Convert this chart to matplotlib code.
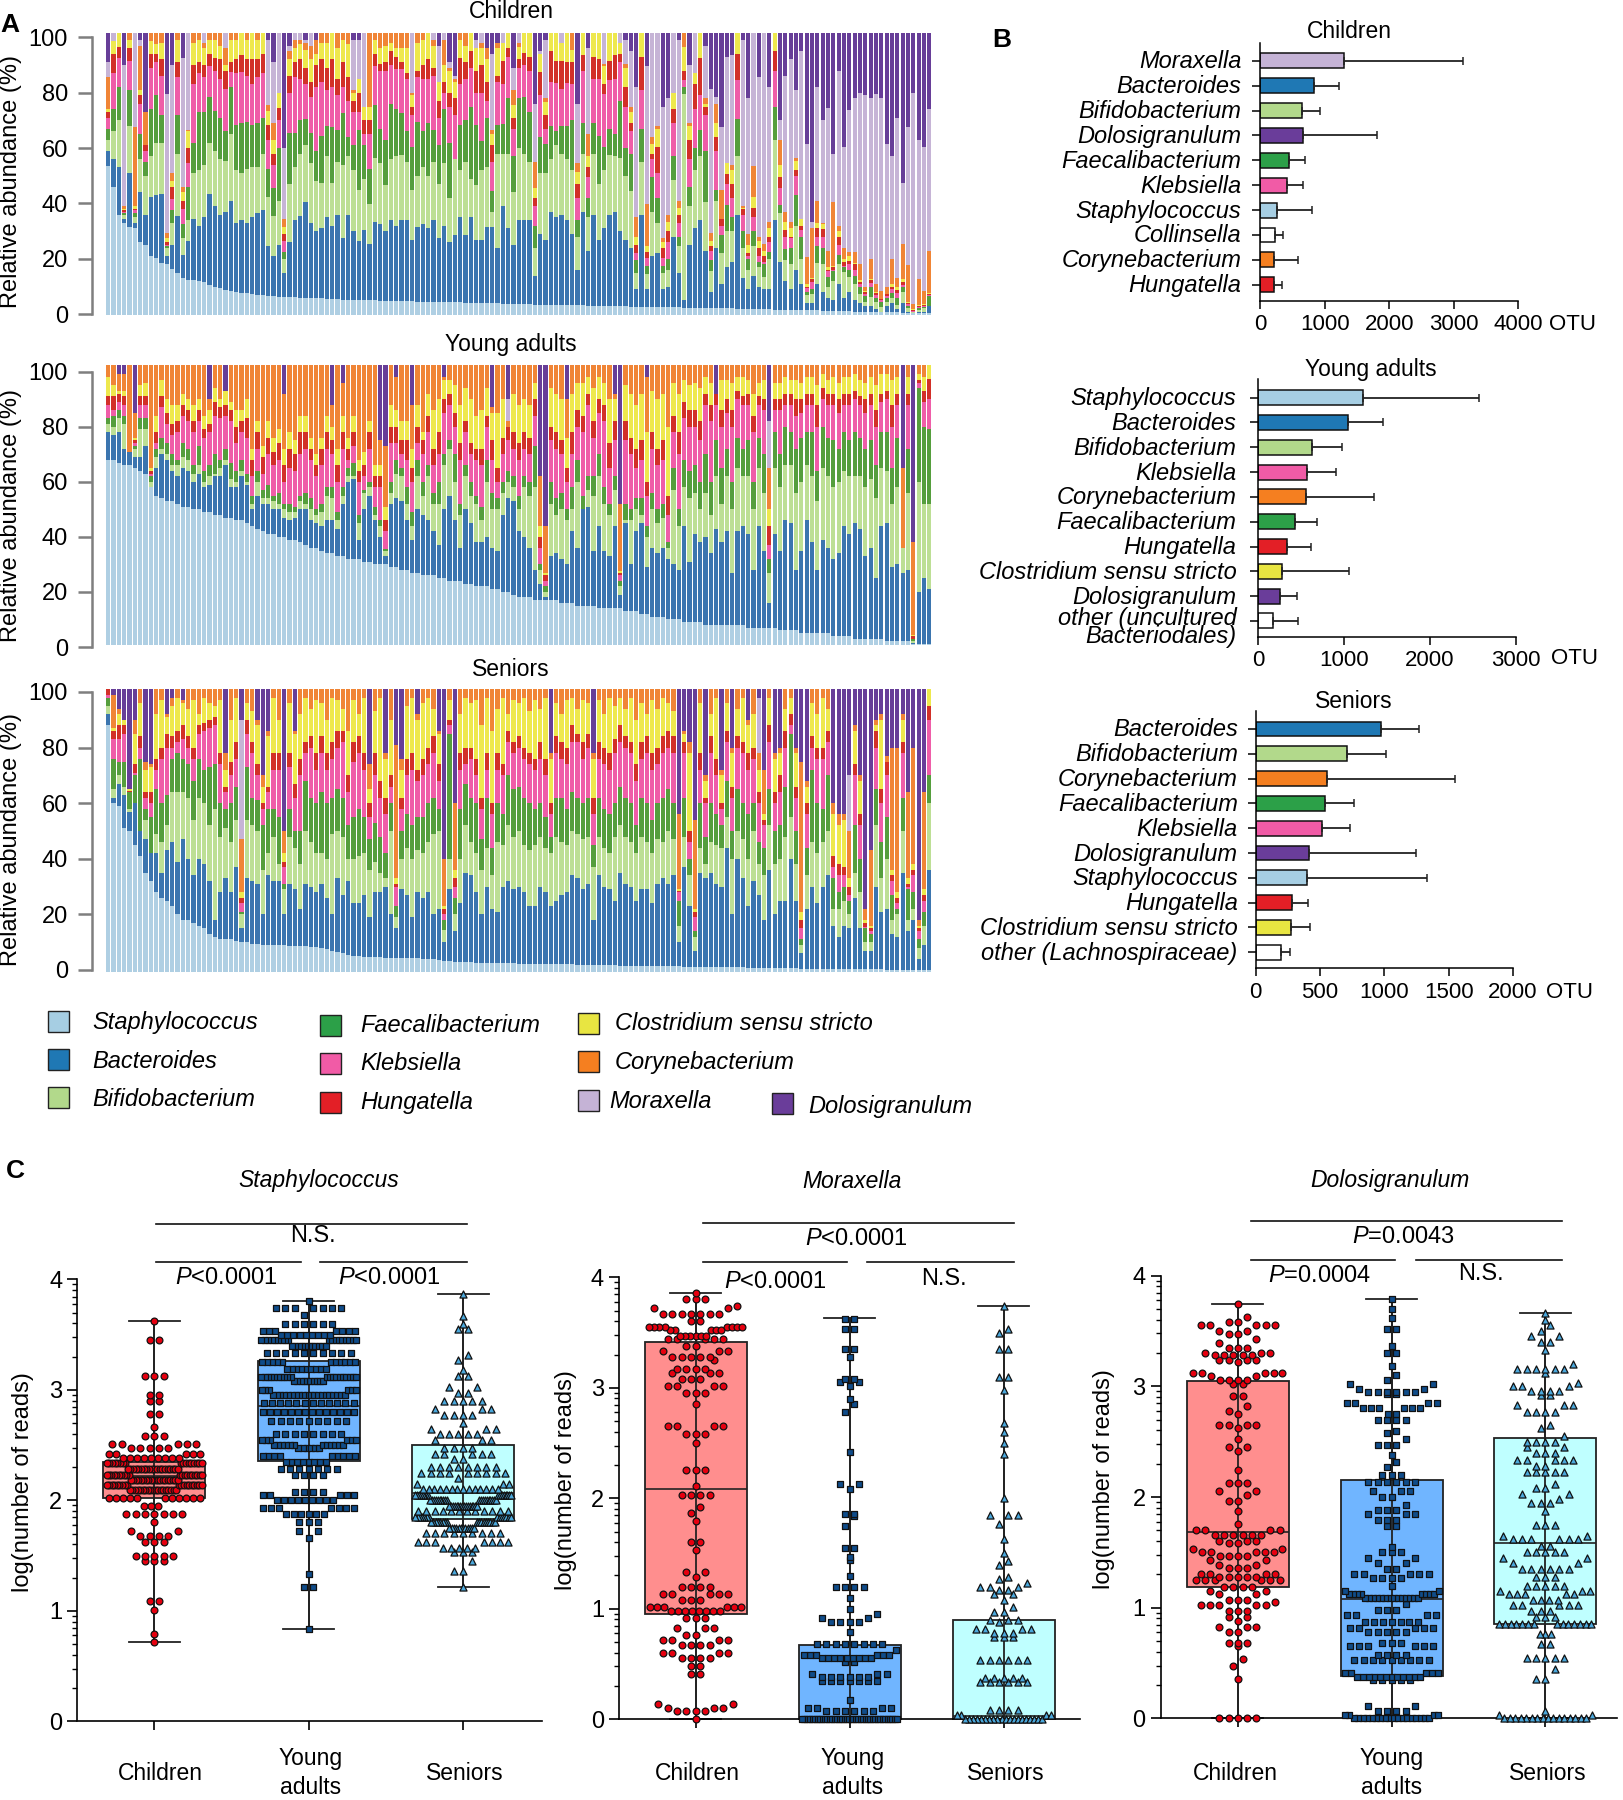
import numpy as np
import matplotlib
matplotlib.use('Agg')
import matplotlib.pyplot as plt
from matplotlib.lines import Line2D
from matplotlib.patches import Rectangle
from matplotlib.transforms import ScaledTranslation

W, H = 1624, 1800
plt.rcParams['font.family'] = ['Liberation Sans', 'DejaVu Sans']
plt.rcParams['mathtext.fontset'] = 'custom'
plt.rcParams['mathtext.it'] = 'Liberation Sans:italic'
plt.rcParams['mathtext.rm'] = 'Liberation Sans'

# genus order in the stacks (bottom to top), values are upper edges in %
genera = ['Staphylococcus', 'Bacteroides', 'Bifidobacterium', 'Faecalibacterium', 'Klebsiella',
          'Hungatella', 'Clostridium sensu stricto', 'Corynebacterium', 'Moraxella', 'Dolosigranulum']
stack_colors = ['#AFCFE3', '#3B75AF', '#BDDF95', '#559E3D', '#EF5DA8', '#D23028', '#EEE84D', '#F08536', '#C6B4D6', '#673E98']
solid_colors = ['#A6CEE3', '#1F78B4', '#B2D98B', '#2CA048', '#F15BA6', '#E31F26', '#E8E541', '#F57F20', '#C5B3D6', '#6A3D9A']

# Children
ch_staph = [53.5,46,36,33,31.5,31,26,25,21,20.5,18.5,18,16.5,15,13,12.5,12.5,12,11.5,10.5,
    9.8,9.5,8.8,8.5,8,7.7,7.7,7.5,6.8,6.8,6.7,6.5,6.2,6.2,6.1,6.1,6,6,5.9,5.9,
    5.8,5.7,5.6,5.6,5.3,5.3,5.2,5.1,5.1,5,5,4.9,4.9,4.8,4.8,4.7,4.7,4.7,4.6,4.6,
    4.5,4.5,4.5,4.4,4.4,4.3,4.3,4.2,4.2,4.1,4,4,3.9,3.9,3.8,3.8,3.7,3.7,3.6,3.6,
    3.5,3.5,3.4,3.4,3.4,3.3,3.3,3.2,3.2,3.2,3.1,3.1,3,3,3,2.9,2.9,2.9,2.8,2.8,
    2.8,2.7,2.7,2.7,2.6,2.6,2.5,2.5,2.4,2.4,2.4,2.3,2.3,2.2,2.2,2.2,2.1,2.1,2,2,
    1.9,1.9,1.8,1.8,1.8,1.7,1.7,1.6,1.6,1.5,1.5,1.5,1.4,1.4,1.3,1.3,1.2,1.2,1.1,1.1,
    1,1,.9,.9,.9,.8,.8,.7,.7,.6,.6,.5,.5,.4,.4]
ch_bact = [59,56,53,34.5,51,33,44,36,42.5,43,43.5,21,25,35.5,21.5,26.5,34.5,32,35,43.5,
    39,36,37,41,33,34,33,35,36.5,37.5,24.5,21,25,15,26,34,35.5,40.5,33,30,
    31,35,32,36,27.5,36,30,26.5,30.5,25.5,33.5,32.5,30,34,32,34,34,27,31.5,32.5,
    31,34,27.5,32,26,28.5,35,28.5,35,27,27,31.5,31.5,24,
    39,31,25,34,34,34,14,29,27,37,35,36,34,29,16,37,23,36,27,31,
    36,37,30,27,24,9,36,9,21,22,9,10,28,15,5,25,31,34,23,8,
    24,11,17,19,36,13,9,14,10,9,9,34,19,12,9,16,11,4,4,11,
    8,6,5,11,6,8,5,4,3,3,2,1,3,4,2,4,1,0.5,1,1,3]
ch_bifi = [63,66,70,36,68,35,56,50,57,62,62,24,33,58,27.5,34,51,52,54,62,
    59,56,55.5,65,52,51,52.5,53,53,58,42.5,35.5,41,20,47,53,58,61,54.5,48,
    47.5,57,47.5,55,54,57,52,45,49,40,56.5,54.5,46.5,56,57,57.5,55,45,50,53,
    50,55,47,54.5,42,56,52,55,49,46.5,52,53,37,58,
    58,58,44,60,58,55,24,51,51,56,61,58,56,52,28,58,35,58,47,52,
    57.5,57,56.5,50,44.5,15,55,14.5,37,33,15,16,48.5,24.7,79.5,39,52,57,40.5,15.5,
    41,22,30,30,57,24,16,24.5,17,13.5,20,63,36.5,19.6,18,32,20,7,7.5,18.5,
    18,10,12,18,15.4,13.6,11,7.5,4.5,6.4,4.3,2.5,4.6,5.8,3.4,8.2,2.2,0.7,1.6,2.2,3]
ch_faec = [67,74,82,36.5,81,36.5,65,55,74,79,72,24.5,37.5,72,32.5,46,62,73,73,78.5,
    73.5,71,66,82,68.5,69,69.5,68.5,69,71,52.5,45.5,60,22.5,65.5,65.5,70,70.5,65.5,59,
    64.5,68,67.5,66.5,72.5,64,61,66.5,61,52.5,75.5,67,63,76,74,72.5,66,60.5,69.5,66,
    69,66.5,61,74,62,56,68.5,70,75,68.5,62.5,71,44.5,68.5,
    68.7,78,57,78,78.5,73,32,64,61.5,68,66,68,68,70,34,69,42,69,64.5,60.5,
    67,65,77,60,58,19.5,67,17.5,49.7,42,17.5,20,57,28,82,46,60,66.5,59,19.5,
    45,28.5,39.5,35,70.5,30,20,30,19,18,22.6,75,39.5,23.5,24,43,28,8,9,24.7,
    24,13.6,15.5,21.5,17,16,14,9.7,6.6,9.7,5.8,4.6,5.8,7.6,5.8,9.7,3,1,2.2,2.8,6.6]
ch_kleb = [71,87,92.5,37,91.5,37.5,76,59,89,91,86,25,41.5,85.5,38,54.5,83,87,85.5,89.5,
    88,85,81.5,87.5,87,87.5,86,83,85.5,87,63,54,70,26.5,80,85.5,85,83,78.5,82,
    84,81,82,79,82,77,73,73,65,65,89.5,88,88,90,88.5,88.5,85,72,85.5,85,
    85,86,71,80,75,72,83,85,89,80,80,77,55,84,
    83,93,67,89,90,88,39,79,67,84,83.6,81.5,83.5,83,42,88,49.5,85,85,79.5,
    84.5,85,91,75,66,22,81,20.5,56,51,20.5,26,69,33,84.5,56,74,79,72,23,
    59,32,47,42,84.5,36,21,35,21,19,26,88,45.5,28,27.5,50,30.5,9.5,11.5,28,
    28,15.7,16,25,17.5,18,16,11,7.3,11.4,7,5.2,6.6,9,7.6,10.6,3.7,1.2,2.8,3,7]
ch_hung = [73,94,96.5,37.5,96,38,79,61,94,94,92,26,46,91,41,60,90,91,90,94,
    92.5,92,88,91,92,93.5,92,92,92,94,68.5,58,74.5,29,86,91,92,89,84,90,
    92,89,92,85,91,85.5,77,80,70,70,94,90.5,91,95,93,91,87,75,88,90,
    92,89,77,84,80,78,92.5,91,95,88,90,84,61,86,
    91.5,96,71,92,94.5,93,42,87.6,72,95,91.5,91.5,91,91,47,93.5,53,93,92,83,
    91.5,93.5,94,82,69,25,93,22.5,58,60.5,24,30,74,36,88,63,83,92.5,75,24.7,
    64,34.5,50.7,47,94,38,22,38.5,24,21,28,95,49.5,30.5,28,52,32,10,12.7,31,
    30.7,16,17,28,19,19.4,18,11.8,8,12.4,7.6,5.5,7.3,10,8.8,11.8,4,1.6,3,3.4,7.2]
ch_clos = [74,98.5,100,38,99,39,81,61,98.5,97.5,98,27.5,48,99,44,66,98,99,96,99,
    99,97,90,99,99,100,99,100,99,101,73.5,63,80,31.5,92,96,97.5,95.5,92,94,
    98,98,100,96,99,97.5,80,85,75,75,99,96,97,98,96,96,96,79,98,99,
    100,97,84,90,88,84,99,97,100,96,96,92,65,96,
    98,101,75.5,96.5,100,100,45.5,94,76.5,101,100,98,100,95.5,51.5,100,57,100,100,89.5,
    100,100,98,89,73,28,100,24.5,61.5,67,26,33.5,80,38.5,96.5,68,87,100,76,26.5,
    69,34.5,54.5,52,100,38.5,25,42.5,26.5,23,31,100,54,33.5,31,55.5,34.5,11,13,33,
    32.6,17,17.5,30,20,21,18.4,12.4,8.5,12.6,8,5.6,7.4,11,10,12.6,4.6,1.8,3.4,3.7,7.6]
ch_cory = [85.5,98,100,39,100,67.5,97,73,100,100,100,29.5,51,100,46,66.5,100,100,98,100,
    100,100,96,100,100,101,100,101,101,101,75.5,69,80,34.5,95,99,99,98,97,99,
    100,100,101,100,100,100,81,84,75,100,100,101,100,100,100,100,100,80,100,100,
    101,99,82,99,89,85,100,100,101,96,98,96,66.5,98,
    98,101,81,98,100,100,55,94,78,101,100,98,100,100,54.5,100,65,100,100,90.5,
    100,100,98,90.5,75,35,100,40,64,68,27.5,36,80,41,100,69,87,100,78,29.5,
    76,44.7,54.5,54,100,39,29,53.5,28,25.5,33.5,100,63,37,33.5,56.5,34.5,20.7,31,41,
    33,23,40.7,32,24,22.6,22.6,18,10,20,11,8.4,9.7,20,13,25.3,17.8,3.6,12.6,8.4,23]
ch_mora = [91,101,101,90,101,100.5,99,73,100.5,100,100,79.5,90,101,92.5,100,101,101,101,101,
    101,99,101,101,100,101,101,100,99,101,99,91,101,60,97,100,100,99,100,99,
    100,101,100,99,100,100,99,99,101,100,101,101,100,100,101,99,100,101,100,100,
    101,100,97,100,91,86,100,99,100,99,101,96,94,98,
    100,101,89,100,100,100,76,95,99,101,100,100,100,100,76,100,96,100,100,100,
    100,100,100,99,95,82,100,89.5,100,100,75,78,100,99,100,90,100,100,97,81.5,
    78.5,67.5,93,93.5,100,99,78,100,85.7,100,82,100,70,86,92,81,95,61.5,33.5,82,
    70,74.4,58,88,60.5,73.8,78,80,79,78,79.5,78,61.5,57,70.8,47.3,67.7,80,63,60.3,74]

# Young adults
ya_staph = [68,68,67,66,66,65,64,63,58,55,54,53,53,52,51,51,50,50,49,49,
    48,48,47,47,46,46,45,44,43,42,41,41,40,40,39,39,38,37,36,36,
    35,34,34,33,33,32,32,32,31,31,30,30,30,29,29,28,28,27,27,26,
    26,26,25,25,24,24,24,23,23,22,22,22,21,21,20,20,19,18,18,18,
    17,17,17,17,17,16,16,16,15,15,15,15,14,14,14,14,14,13,13,13,
    12,12,11,11,11,10,10,10,9,9,9,9,8,8,8,8,8,8,8,8,
    7,7,7,7,7,7,6,6,6,6,5,5,5,5,5,5,4,4,4,4,
    3,3,3,3,3,3,2,2,2,2,2,1,1,1,1]
ya_bact = [78,77,78,72,71,69,69,73,58,65,70,68,64,62,65,64,60,63,58,59,
    62,62,66,58,58,62,59,50,55,52,52,50,50,47,46,47,50,50,46,45,
    44,46,46,43,52,60,61,39,50,55,46,40,33,52,54,53,46,39,50,48,
    46,42,37,50,55,46,36,50,45,38,38,40,36,35,48,54,53,42,40,36,
    28,23,18,33,34,32,30,42,36,50,51,35,44,35,33,44,19,45,30,42,
    45,29,36,34,36,32,30,28,44,31,41,38,40,34,43,38,42,27,42,44,
    41,28,44,35,16,41,35,46,45,28,35,46,38,28,39,36,32,34,44,41,
    45,43,33,36,25,44,45,29,30,27,28,1.5,20,25,21]
ya_bifi = [81,80,83,81,66,72,79,79,60,69,72,70,66,66,69,68,63,66,60,62,
    63,65,68,61,60,64,60,52,60,54,54,53,52,50,49,49,53,52,50,48,
    49,55,54,46,55,62,62,45,56,58,48,44,35,56,63,62,52,44,62,55,
    62,52,52,66,72,60,48,62,55,52,46,60,50,50,56,60,58,50,58,55,
    58,28,20,52,48,50,46,50,60,48,57,55,62,52,48,57,22,46,46,50,
    48,40,50,45,47,36,57,44,58,54,56,50,56,48,62,52,62,50,65,62,
    62,50,65,56,27,65,58,66,66,56,60,66,62,53,65,62,58,60,64,62,
    62,62,58,61,54,65,64,52,58,36,56,2,60,52,52]
ya_faec = [83,84,86,84,68,73,83,83,62,72,76,74,70,68,74,72,66,73,64,66,
    70,68,72,67,64,68,63,55,64,57,59,55,56,52,52,51,55,56,54,50,
    52,58,58,49,58,65,67,48,57,60,51,46,35.5,60,68,65,58,49,68,60,
    66,56,60,70,75,70,52,66,60,55,51,68,56,54,60,64,62,55,62,60,
    73,30,22,60,54,56,50,58,68,55,62,62,70,58,52,62,24,52,50,54,
    54,44,56,50,52,38,65,50,68,64,66,60,70,60,75,65,72,60,76,72,
    75,60,76,70,32,78,70,80,78,72,76,78,78,64,80,76,75,72,78,75,
    78,76,72,75,66,78,78,65,76,36,72,3,94,80,79]
ya_kleb = [88,86,89,88,69,74,88,88,63,74,87,81,77,78,84,82,78,82,76,78,
    84,83,84,82,74,78,76,62,72,63,70,66,68,60,65,64,70,72,68,62,
    66,72,70,60,72,68,73,60,62,72,58,58,42,74,74,70,68,60,74,70,
    78,66,70,85,88,80,68,78,70,68,66,80,68,60,70,75,72,68,72,70,
    84,36,24,75,72,70,60,70,80,78,88,76,85,82,65,75,26,75,70,65,
    68,55,72,66,68,48,78,70,83,80,80,75,88,82,88,80,85,80,90,88,
    88,78,88,86,37,86,86,88,88,84,85,88,88,80,90,88,88,85,88,88,
    90,88,85,88,80,89,90,80,88,34,88,3,96,89,90]
ya_hung = [91,91,92,91,70,75,91,91,64,78,91,85,81,82,88,86,82,86,79,81,
    89,87,88,86,80,82,83,68,78,69,76,71,74,66,72,70,78,78,72,66,
    72,78,75,66,78,72,78,64,66,78,62,62,46,80,80,75,75,65,80,75,
    84,72,78,90,92,85,74,82,74,72,72,84,75,65,76,80,78,74,78,76,
    90,40,26,80,78,75,65,78,86,84,92,82,90,88,74,82,27,82,76,72,
    75,60,78,72,75,55,84,78,89,86,86,82,92,88,92,86,90,86,93,91,
    92,84,91,90,44,90,90,92,92,90,90,92,92,88,94,92,92,90,92,92,
    93,91,90,92,86,92,93,88,92,35,92,4,97,93,97.5]
ya_clos = [98,95,93,93,71,76,95,96,65,84,97,90,88,88,92,90,88,90,84,86,
    94,90,93,89,86,86,90,72,82,73,82,76,79,72,78,75,84,84,76,70,
    76,84,80,72,84,76,84,68,71,82,66,66,51,88,86,82,82,72,88,78,
    92,86,90,97,97,95,88,94,90,84,86,94,85,85,90,80,92,88,90,88,
    96,44,27,94,92,90,76,92,96,96,98,94,98,96,90,90,27.5,95,92,88,
    92,78,93,90,92,80,96,92,97,95,96,94,98,96,90,97,97,96,98,98,
    97,92,96,97,50,96,96,98,97,97,96,98,98,95,99,97,98,96,98,98,
    99,97,96,98,95,99,99,97,98,35.5,98,4.5,99,98,100]
ya_cory = [100,100,99,99,100,85,100,100,100,100,100,100,100,100,100,100,100,100,100,90,
    100,100,92,100,100,100,100,100,100,100,100,100,100,92,100,100,100,100,100,100,
    100,100,88,100,96,100,100,100,100,100,100,75,73,100,98,100,100,88,100,100,
    100,100,100,98,100,100,100,100,100,100,100,100,87,100,100,82,100,100,100,100,
    100,62,44,100,100,100,90,100,100,100,100,100,100,100,100,92,52,100,100,100,
    100,98,100,100,100,100,100,100,100,100,100,100,100,100,92,100,100,100,100,100,
    100,100,100,100,65,100,100,100,100,100,100,100,100,100,100,100,100,100,100,100,
    100,100,100,100,100,100,100,100,100,65,100,38,100,100,100]
ya_mora = {75: 8, 124: 17}

# Seniors
se_staph = [88,60,59,51,50,45,41,35,32,28,26,25,23,20,18,18,17,16,15,13,
    12,11,11,11,10.5,10,10,9.5,9.5,9,9,9,9,9,8.8,8.7,8.5,8.5,8.3,8.1,
    8,7.5,7,6.5,6,5.5,5.2,5,4.8,4.6,4.5,4.5,4.4,4.4,4.3,4.3,4.3,4.2,4.2,4.1,
    4,3.8,3.6,3.4,3.2,3,2.8,2.7,2.7,2.6,2.6,2.5,2.5,2.5,2.4,2.4,2.4,2.3,2.3,2.3,
    2.2,2.2,2.2,2.1,2.1,2,2,2,1.9,1.9,1.8,1.8,1.8,1.7,1.7,1.7,1.6,1.6,1.6,1.5,
    1.5,1.5,1.4,1.4,1.4,1.3,1.3,1.3,1.2,1.2,1.2,1.1,1.1,1.1,1,1,1,.9,.9,.9,
    .8,.8,.8,.7,.7,.7,.6,.6,.6,.6,.5,.5,.5,.5,.4,.4,.4,.4,.3,.3,
    .3,.3,.2,.2,.2,.2,.1,.1,.1,.1,0,0,0,0,0]
se_bact = [92,62,67,63,57,60,50,47,42,42,35,43,46,39,47,40,34,40,38,32,
    18,28,33,28,37,15,33,32,31,20,34,32,32,20,31,29,22,31,30,28,
    31,26,20,33,27,32,24,24,27,19,28,28,30,20,15,29,27,19,28,26,
    28,20,22,10,29,14,24,35,34,28,20,30,22,21,30,32,29,30,28,23,
    23,30,28,23,25,27,28,34,33,29,31,18,34,30,29,25,35,31,30,25,
    29,29,24,31,33,31,34,10,37,23,7,35,33,35,31,30,44,20,40,33,
    23,32,27,18,36,20,25,25,40,25,6,22,30,24,30,34,16,12,16,15,
    26,15,7,7,30,21,22,13,12,35,14,18,4,9,36]
se_bifi = [95,65,70,66,58,56,50,54,42,49,46,52,64,64,64,62,54,62,60,52,
    58,48,51,46,54,20,54,52,50,36,42,48,38,29,48,44,38,50,46,42,
    42,40,49,50,48,40,40,41,42,36,39,35,33,50,19,40,44,40,43,42,
    46,49,50,14.5,40,20,40,52,46,42,36,44,34,46,45,52,48,50,45,43,
    45,48,44,42,48,46,45,50,49,47,48,37,48,44,42,48,52,48,46,42,
    48,46,42,47,46,50,47,16,48,34,12,44,38,46,45,44,55,40,50,47,
    40,50,38,34,52,38,40,48,55,38,9,34,46,42,46,50,22,22,25,20,
    35,28,10,10,52,33,40,18,20,50,18,22,8,16,60]
se_faec = [98,76,75,75,64,70,76,58,55,65,60,63,76,78,76,74,68,76,72,73,
    74,60,58,60,66,21,73,62,61,52,58,58,55,31,58,50,50,68,62,60,
    64,60,62,65,62,52,55,58,55,47,53,48,42,60,23,50,56,52,55,55,
    60,62,58,18,85,26,58,67,62,60,47,62,44,60,56,70,65,66,62,60,
    58,60,55,48,62,62,58,64,62,60,62,45,62,58,56,60,66,62,60,52,
    62,60,54,60,62,65,60,25,62,40,14,60,48,60,56,52,68,50,65,60,
    56,60,46,44,65,50,52,66,85,50,11,44,72,60,58,70,33,28,30,25,
    52,40,15,13,65,46,55,27,22,62,29,28,11,21,70]
se_kleb = [99,83,83,85,64,71,80,62,60,72,76,80,80,82,83,80,76,85,86,87,
    88,74,64,70,76,24,85,78,70,58,64,72,72,37,73,62,70,78,80,72,
    78,72,76,80,82,64,75,78,72,55,70,62,56,66,30,58,70,72,68,70,
    74,78,68,20,88,30,72,74,76,70,58,72,56,72,70,82,78,80,76,74,
    72,76,70,56,78,76,74,82,82,76,80,56,76,74,72,78,82,80,78,68,
    76,78,72,74,78,80,78,28,78,46,19,72,60,78,70,58,82,62,80,78,
    72,76,60,52,82,60,64,80,88,62,15,56,80,76,76,82,37,34,34,27,
    70,52,15.5,14,80,60,70,32,24,78,30,34,14,25,90]
se_hung = [100,86,88,88,64.5,74,84,64,64,76,80,85,84,86,88,84,80,88,89,90,
    91,78,66,75,82,26,90,82,74,60,66,78,78,39,78,67,76,82,84,78,
    84,78,82,86,86,70,82,84,78,60,78,68,62,70,31,62,76,78,72,76,
    80,84,74,22,90,33,78,80,80,76,62,78,60,78,74,86,82,84,80,78,
    76,82,76,60,84,82,80,88,85,82,85,62,82,80,78,83,88,84,82,74,
    82,84,78,80,84,86,84,28.5,82,50,21,78,62,84,76,60,86,66,84,82,
    78,80,64,54,88,64,70,86,92,66,18,60,84,80,80,86,41,38,37,30,
    74,56,17,15,86,65,75,34,26,82,31,36,15,27,95]
se_clos = [100,87,92,90,65,85,96,72,73,92,97,91,95,98,96,94,97,92,98,96,
    95,97,72,90,98,28,96,93,88,66,84,98,90,42,96,85,92,98,94,97,
    96,90,98,97,94,86,97,92,98,65,93,98,76,90,33,72,95,98,90,96,
    98,94,85,23,97,36,92,98,96,97,88,98,86,94,98,92,97,96,98,93,
    97,94,98,76,96,92,97,98,94,97,96,76,97,92,98,95,98,94,98,90,
    96,92,97,94,98,96,93,29,85,78,22,96,68,92,98,70,96,78,94,98,
    88,92,72,56,98,76,78,94,98,78,21,66,96,92,98,94,56,52,54,33,
    86,68,18,16,88,90,75,36,28,90,33,38,16,29,100]
se_cory = [100,99,94,88,65,90,100,75,74,100,100,92,98,100,97,100,100,100,100,100,
    100,100,78,100,100,47,100,100,90,70,86,100,100,50,100,86,100,100,100,100,
    100,100,100,100,100,100,100,100,100,74,100,100,78,100,81,76,100,100,92,100,
    100,100,86,40,100,60,100,100,100,100,100,100,100,100,100,100,100,100,100,100,
    100,100,100,78,100,100,100,100,100,100,100,78,100,100,100,100,100,100,100,100,
    100,100,100,100,100,100,100,56,86,82,54,100,70,100,100,72,100,80,100,100,
    90,100,78,72,100,78,80,100,100,80,75,68,100,100,100,100,60,56,56,50,
    88,70,22,43,90,92,77,80,80,92,64,80,18,64,100]
se_mora = {25: 43, 122: 20, 139: 20}

# panel B
b_ch_names = ['Moraxella', 'Bacteroides', 'Bifidobacterium', 'Dolosigranulum', 'Faecalibacterium',
              'Klebsiella', 'Staphylococcus', 'Collinsella', 'Corynebacterium', 'Hungatella']
b_ch_mean = [1305, 843, 646, 672, 448, 415, 270, 231, 217, 217]
b_ch_high = [3137, 1219, 929, 1812, 692, 659, 804, 362, 593, 336]
b_ya_names = ['Staphylococcus', 'Bacteroides', 'Bifidobacterium', 'Klebsiella', 'Corynebacterium', 'Faecalibacterium',
              'Hungatella', 'Clostridium sensu stricto', 'Dolosigranulum', 'other (uncultured\nBacteriodales)']
b_ya_mean = [1226, 1043, 628, 573, 563, 425, 336, 277, 252, 178]
b_ya_high = [2570, 1448, 979, 904, 1349, 682, 613, 1063, 455, 470]
b_se_names = ['Bacteroides', 'Bifidobacterium', 'Corynebacterium', 'Faecalibacterium', 'Klebsiella', 'Dolosigranulum',
              'Staphylococcus', 'Hungatella', 'Clostridium sensu stricto', 'other (Lachnospiraceae)']
b_se_mean = [975, 712, 553, 537, 511, 412, 402, 280, 273, 194]
b_se_high = [1268, 1015, 1549, 761, 735, 1249, 1328, 405, 425, 264]

# panel C, box stats per group: whisker low, q1, median, q3, whisker high
c_groups = ['Children', 'Young\nadults', 'Seniors']
staph_box = [[0.72, 2.02, 2.22, 2.35, 3.62], [0.84, 2.36, 2.85, 3.26, 3.80], [1.22, 1.83, 2.07, 2.50, 3.87]]
morax_box = [[0, 0.95, 2.08, 3.41, 3.86], [0, 0, 0, 0.67, 3.63], [0, 0, 0.03, 0.90, 3.74]]
dolos_box = [[0, 1.19, 1.68, 3.05, 3.74], [0, 0.386, 1.08, 2.157, 3.79], [0, 0.85, 1.585, 2.53, 3.66]]

# swarm rows: read as level / number of points at that level
staph_ch_lv = [0.72,0.79,1.01,1.09,1.45,1.5,1.62,1.68,1.72,1.8,1.88,1.95,2.02,2.09,2.14,2.18,2.23,2.28,2.34,2.38,2.42,2.47,2.51,2.58,2.66,2.78,2.9,2.95,3.13,3.45,3.62]
staph_ch_n = [1,1,1,2,3,5,3,4,2,1,7,3,11,19,19,20,20,20,17,9,5,5,5,3,1,2,2,2,3,2,1]
staph_ya_lv = [0.84,1.22,1.33,1.66,1.72,1.8,1.88,1.93,2.0,2.05,2.08,2.23,2.28,2.35,2.4,2.47,2.5,2.55,2.6,2.72,2.8,2.88,2.95,3.0,3.08,3.12,3.19,3.25,3.33,3.4,3.45,3.5,3.53,3.6,3.68,3.74,3.8]
staph_ya_n = [1,2,1,1,2,3,6,7,9,5,4,4,7,8,9,6,12,6,8,9,14,12,20,6,10,20,9,11,10,11,18,9,7,6,1,7,1]
staph_se_lv = [1.22,1.36,1.45,1.53,1.57,1.62,1.7,1.75,1.8,1.85,1.9,1.95,2.0,2.05,2.1,2.15,2.2,2.25,2.3,2.37,2.42,2.47,2.55,2.6,2.65,2.7,2.77,2.83,2.9,2.97,3.03,3.13,3.18,3.27,3.32,3.55,3.6,3.67,3.87]
staph_se_n = [1,2,1,3,5,7,9,12,17,14,12,16,20,16,14,3,1,9,8,2,5,4,3,5,3,1,4,3,5,2,2,2,1,1,1,2,1,1,1]
morax_ch_lv = [0,0.07,0.1,0.14,0.41,0.48,0.55,0.6,0.67,0.72,0.76,0.83,0.92,0.98,1.02,1.08,1.13,1.2,1.29,1.33,1.53,1.6,1.79,1.87,1.92,2.03,2.11,2.26,2.5,2.58,2.65,2.85,2.95,3.02,3.08,3.13,3.17,3.25,3.28,3.33,3.38,3.44,3.47,3.52,3.55,3.6,3.67,3.72,3.74,3.8,3.86]
morax_ch_n = [1,4,3,2,2,2,4,4,4,4,2,3,3,8,6,3,5,4,1,2,1,2,1,1,1,4,1,3,1,3,4,1,3,4,3,3,4,1,5,3,2,5,6,5,8,2,7,2,1,3,1]
morax_ya_lv = [0,0.07,0.1,0.17,0.35,0.38,0.41,0.52,0.55,0.58,0.63,0.68,0.79,0.88,0.92,0.95,1.0,1.1,1.2,1.3,1.44,1.47,1.55,1.75,1.84,1.86,2.08,2.13,2.42,2.78,2.85,2.9,3.02,3.05,3.08,3.28,3.35,3.53,3.62]
morax_ya_n = [40,6,4,1,7,6,3,2,9,6,1,8,1,4,2,1,1,1,4,1,1,1,2,1,1,2,1,2,1,1,1,1,1,2,2,1,2,2,2]
morax_se_lv = [0,0.04,0.08,0.34,0.37,0.54,0.74,0.78,0.82,0.88,0.9,0.97,1.02,1.08,1.13,1.17,1.2,1.23,1.27,1.29,1.4,1.43,1.5,1.63,1.77,1.85,2.0,2.4,2.5,2.6,2.68,2.98,3.1,3.35,3.5,3.53,3.74]
morax_se_n = [20,4,4,6,5,6,3,3,4,1,3,2,1,1,2,2,3,1,1,1,1,1,1,1,1,3,1,1,1,1,1,1,2,2,1,1,1]
dolos_ch_lv = [0,0.36,0.47,0.54,0.65,0.68,0.78,0.83,0.88,0.92,0.97,1.02,1.05,1.07,1.12,1.15,1.19,1.25,1.28,1.3,1.36,1.39,1.43,1.47,1.5,1.53,1.58,1.6,1.66,1.7,1.76,1.87,1.96,2.02,2.05,2.13,2.24,2.42,2.45,2.52,2.62,2.65,2.75,2.78,2.82,2.91,3.02,3.06,3.09,3.12,3.22,3.24,3.28,3.3,3.35,3.39,3.43,3.47,3.5,3.55,3.58,3.63,3.74]
dolos_ch_n = [5,1,1,1,1,3,2,3,1,2,3,5,1,3,2,2,4,6,5,4,3,2,2,4,5,2,2,3,6,4,1,1,2,1,2,3,1,1,2,1,1,4,1,1,1,2,2,4,2,5,1,4,5,3,3,1,1,2,2,5,2,1,1]
dolos_ya_lv = [0,0.03,0.07,0.11,0.35,0.37,0.41,0.53,0.57,0.65,0.68,0.78,0.82,0.87,0.93,0.98,1.03,1.09,1.12,1.15,1.2,1.27,1.3,1.35,1.4,1.45,1.5,1.55,1.74,1.79,1.85,1.88,1.93,2.0,2.05,2.14,2.2,2.27,2.32,2.38,2.47,2.52,2.58,2.6,2.7,2.75,2.8,2.85,2.93,2.95,2.98,3.02,3.06,3.1,3.18,3.3,3.36,3.52,3.62,3.7,3.79]
dolos_ya_n = [18,4,4,2,5,12,5,9,4,6,3,5,5,7,4,3,1,14,8,2,1,4,5,2,2,2,3,1,2,3,3,3,1,2,3,6,3,1,1,1,3,1,1,1,4,2,6,4,2,6,2,2,1,1,1,2,1,2,1,1,1]
dolos_se_lv = [0,0.03,0.07,0.36,0.45,0.55,0.67,0.76,0.85,0.92,0.97,1.02,1.07,1.12,1.15,1.2,1.28,1.35,1.4,1.45,1.5,1.56,1.62,1.65,1.75,1.87,1.95,1.98,2.03,2.08,2.12,2.23,2.28,2.33,2.4,2.45,2.5,2.55,2.62,2.65,2.77,2.83,2.92,2.96,3.0,3.03,3.12,3.16,3.2,3.33,3.4,3.45,3.5,3.55,3.6,3.66]
dolos_se_n = [16,2,1,2,1,5,2,3,14,3,3,5,4,5,3,5,3,6,2,2,5,2,6,2,3,1,3,1,2,2,1,5,2,5,3,2,4,1,1,1,4,3,2,4,3,1,1,6,1,1,2,2,1,1,1,1]

fig = plt.figure(figsize=(W / 100, H / 100), dpi=100, facecolor='white')


def box_axes(left, top, right, bottom):
    return fig.add_axes([left / W, 1 - bottom / H, (right - left) / W, (bottom - top) / H])


def put_text(x, y, s, **kw):
    kw.setdefault('ha', 'center')
    kw.setdefault('va', 'center')
    fig.text(x / W, 1 - y / H, s, **kw)


def rule(x0, x1, y):
    fig.add_artist(Line2D([x0 / W, x1 / W], [1 - y / H, 1 - y / H], color='#111111', lw=1.2))


def stacked_panel(series, extra, top, bottom, tick100, tick0, title, title_y, label_y):
    n = min(len(s) for s in series)
    tops = np.array([np.asarray(s[:n], dtype=float) for s in series])
    if extra is not None:
        mora = tops[-1].copy()
        for k, v in extra.items():
            mora[k] += v
        tops = np.vstack([tops, mora])
    tops = np.maximum.accumulate(tops, axis=0)
    unit = (tick0 - tick100) / 100
    y_lo, y_hi = (tick0 - bottom) / unit, (tick0 - top) / unit
    tops[tops >= 100] = y_hi
    ax = box_axes(105.5, top, 932, bottom)
    x = np.arange(n)
    prev = np.full(n, y_lo)
    for row, col in zip(list(tops) + [np.full(n, y_hi)], stack_colors):
        row = np.maximum(row, prev)
        ax.bar(x, row - prev, bottom=prev, width=0.8, color=col, linewidth=0)
        prev = row
    ax.set_xlim(-0.5, n - 0.5)
    ax.set_ylim(y_lo, y_hi)
    ax.set_xticks([])
    ax.set_yticks([0, 20, 40, 60, 80, 100])
    for side in ['top', 'right', 'bottom']:
        ax.spines[side].set_visible(False)
    ax.spines['left'].set_position(('outward', 10))
    ax.spines['left'].set_bounds(0, 100)
    ax.spines['left'].set_color('#7f7f7f')
    ax.spines['left'].set_linewidth(1.8)
    ax.tick_params(axis='y', length=10, width=1.8, color='#7f7f7f', pad=7, labelsize=17)
    put_text(511, title_y, title, fontsize=16.5)
    put_text(11, label_y, 'Relative abundance (%)', rotation=90, fontsize=17)


stacked_panel([ch_staph, ch_bact, ch_bifi, ch_faec, ch_kleb, ch_hung, ch_clos, ch_cory, ch_mora], None,
              32.7, 315, 37.3, 314.3, 'Children', 11, 182)
stacked_panel([ya_staph, ya_bact, ya_bifi, ya_faec, ya_kleb, ya_hung, ya_clos, ya_cory], ya_mora,
              365, 647, 371.7, 649, 'Young adults', 345, 515)
stacked_panel([se_staph, se_bact, se_bifi, se_faec, se_kleb, se_hung, se_clos, se_cory], se_mora,
              689, 971.7, 692, 970, 'Seniors', 670, 839)

put_text(10, 25, 'A', fontsize=19, fontweight='bold')
put_text(1002, 40, 'B', fontsize=19, fontweight='bold')
put_text(15, 1171, 'C', fontsize=19, fontweight='bold')

# legend
legend_boxes = [(48, 1011), (48, 1049), (48, 1087), (320, 1015), (320, 1053), (320, 1092),
                (578.5, 1013), (578.5, 1051), (578.5, 1090), (772, 1093)]
legend_text = [(92.5, 1022), (92.5, 1061), (92.5, 1099), (360, 1025), (360, 1064), (360, 1102),
               (615, 1024), (615, 1063), (609, 1102), (808.7, 1106)]
for i, (bx, tx) in enumerate(zip(legend_boxes, legend_text)):
    fig.add_artist(Rectangle((bx[0] / W, 1 - (bx[1] + 21) / H), 21 / W, 21 / H, transform=fig.transFigure,
                             facecolor=solid_colors[i], edgecolor='#222222', linewidth=1.0))
    put_text(tx[0], tx[1], genera[i], ha='left', fontsize=17, style='italic')

# panel B
bar_colors = dict(zip(genera, solid_colors))


def otu_panel(names, means, highs, left, right, top, bottom, first_y, step, x_max, ticks, pad, title, title_x, title_y, otu_x, otu_y):
    ax = box_axes(left, top, right, bottom)
    y = np.arange(len(names))
    cols = [bar_colors.get(nm, 'white') for nm in names]
    err = [np.zeros(len(names)), np.array(highs) - np.array(means)]
    ax.barh(y, means, height=0.6, color=cols, edgecolor='#111111', linewidth=1.1, xerr=err,
            error_kw=dict(ecolor='#222222', elinewidth=1.3, capsize=3, capthick=1.1))
    ax.set_xlim(0, x_max)
    ax.set_ylim((bottom - first_y) / step, (top - first_y) / step)
    ax.set_xticks(ticks)
    ax.set_yticks(y)
    ax.set_yticklabels(names, style='italic', fontsize=17)
    ax.tick_params(axis='y', length=5.5, width=1.1, pad=pad)
    ax.tick_params(axis='x', length=5.5, width=1.1, pad=4.5, labelsize=16)
    for side in ['top', 'right']:
        ax.spines[side].set_visible(False)
    for side in ['left', 'bottom']:
        ax.spines[side].set_linewidth(1.1)
    for lab in ax.get_yticklabels():
        dy = 0.015
        if '\n' in lab.get_text():
            lab.set_linespacing(0.68)
            dy = -0.07
        lab.set_transform(lab.get_transform() + ScaledTranslation(0, dy, fig.dpi_scale_trans))
    put_text(title_x, title_y, title, fontsize=16.5)
    put_text(otu_x, otu_y, 'OTU', fontsize=16)


otu_panel(b_ch_names, b_ch_mean, b_ch_high, 1260, 1518.3, 42.5, 300.5, 60.7, 24.9, 4000, [0, 1000, 2000, 3000, 4000], 8,
          'Children', 1349, 31, 1573, 324)
otu_panel(b_ya_names, b_ya_mean, b_ya_high, 1258, 1516, 379.4, 636.6, 397.7, 24.8, 3000, [0, 1000, 2000, 3000], 10,
          'Young adults', 1370.6, 369.5, 1575, 659)
otu_panel(b_se_names, b_se_mean, b_se_high, 1255.8, 1513, 710.7, 967.7, 729, 24.8, 2000, [0, 500, 1000, 1500, 2000], 7.5,
          'Seniors', 1354, 701.7, 1570, 992)

# panel C
box_fills = ['#FF8E8E', '#70B5FF', '#BFFFFF']
markers = [('o', '#E6000F', 24), ('s', '#0F4C8A', 22), ('^', '#4BA8DC', 26)]


def swarm_xy(p, levels, counts, step):
    # Prism-like layout: points share a row per 0.1 bin, lowest values in the middle
    vals = np.repeat(np.asarray(levels, dtype=float), counts)
    bins = np.round(vals / 0.1)
    xs, ys = [], []
    for b in np.unique(bins):
        row = np.sort(vals[bins == b])
        c = len(row)
        off = (np.arange(c) - (c - 1) / 2) * min(9.3, 98 / c) / step
        xs.extend(p + off[np.argsort(np.abs(off), kind='stable')])
        ys.extend(row)
    return xs, ys


def swarm_panel(stats, rows, left, right, y4, y0, first, step, title, title_x, lab_x, lab_dx):
    ax = box_axes(left, y4, right, y0)
    pos = np.arange(3)
    ax.set_xlim((left - first) / step, (right - first) / step)
    ax.set_ylim(0, 4)
    bstats = [dict(whislo=s[0], q1=s[1], med=s[2], q3=s[3], whishi=s[4], fliers=[]) for s in stats]
    arts = ax.bxp(bstats, positions=pos, widths=102 / step, capwidths=51 / step, patch_artist=True, manage_ticks=False,
                  showfliers=False, zorder=2,
                  boxprops=dict(edgecolor='#222222', linewidth=1.3),
                  medianprops=dict(color='#222222', linewidth=1.2),
                  whiskerprops=dict(color='#222222', linewidth=1.3),
                  capprops=dict(color='#222222', linewidth=1.3))
    for b, col in zip(arts['boxes'], box_fills):
        b.set_facecolor(col)
    for group in arts.values():
        for a in group:
            a.set_clip_on(False)
    ax.vlines(pos, [s[0] for s in stats], [s[4] for s in stats], color='#222222', lw=1.3, zorder=3)
    for p, (lv, cnt), (mk, col, size) in zip(pos, rows, markers):
        xs, ys = swarm_xy(p, lv, cnt, step)
        ax.scatter(xs, ys, marker=mk, s=size, facecolor=col, edgecolor='#111111', linewidth=0.9, zorder=4, clip_on=False)
    ax.set_xticks(pos)
    ax.set_xticklabels(c_groups, fontsize=16.5, linespacing=1.35)
    ax.set_yticks([0, 1, 2, 3, 4])
    ax.set_yticks([i + np.log10(k) for i in range(4) for k in range(2, 10)], minor=True)
    # same label height in all three panels, low enough to stay inside the figure
    ax.tick_params(axis='x', length=6.5, width=1.2, pad=(1773 - y0 - 9) / 1.389)
    ax.tick_params(axis='y', which='major', length=7, width=1.2, labelsize=17, pad=4)
    ax.tick_params(axis='y', which='minor', length=3.5, width=1)
    for lab, dx in zip(ax.get_xticklabels(), lab_dx):
        lab.set_verticalalignment('center')
        lab.set_transform(lab.get_transform() + ScaledTranslation(dx / 100, 0, fig.dpi_scale_trans))
    for side in ['top', 'right']:
        ax.spines[side].set_visible(False)
    for side in ['left', 'bottom']:
        ax.spines[side].set_linewidth(1.2)
    put_text(title_x, 1181, title, fontsize=16.5, style='italic')
    put_text(lab_x, (y4 + y0) / 2 - 18, 'log(number of reads)', rotation=90, fontsize=17)


swarm_panel(staph_box, [(staph_ch_lv, staph_ch_n), (staph_ya_lv, staph_ya_n), (staph_se_lv, staph_se_n)],
            77.5, 541.8, 1279.4, 1721.3, 154.3, 154.4, 'Staphylococcus', 319, 23, [6, 2, 2])
swarm_panel(morax_box, [(morax_ch_lv, morax_ch_n), (morax_ya_lv, morax_ya_n), (morax_se_lv, morax_se_n)],
            619.2, 1079.6, 1277.3, 1719.2, 695.6, 154, 'Moraxella', 851.6, 566, [2, 3, 2])
swarm_panel(dolos_box, [(dolos_ch_lv, dolos_ch_n), (dolos_ya_lv, dolos_ya_n), (dolos_se_lv, dolos_se_n)],
            1160.8, 1617, 1275.6, 1718.4, 1237.9, 153.7, 'Dolosigranulum', 1390, 1104.5, [-3, 0, 2])

# significance brackets
P_LT = r'$\mathit{P}$<0.0001'
rule(156, 467, 1223.8)
rule(156, 300.7, 1262.4)
rule(320, 467, 1262.4)
put_text(313, 1236, 'N.S.', fontsize=17)
put_text(226, 1278.5, P_LT, fontsize=17)
put_text(389, 1278.5, P_LT, fontsize=17)
rule(703, 1014.5, 1223.4)
rule(703, 847.5, 1261.5)
rule(867.5, 1014.5, 1261.5)
put_text(856.5, 1239, P_LT, fontsize=17)
put_text(775, 1281.8, P_LT, fontsize=17)
put_text(943.6, 1279.4, 'N.S.', fontsize=17)
rule(1251.4, 1562.3, 1221.3)
rule(1251.4, 1395, 1259.9)
rule(1415.9, 1562.3, 1259.9)
put_text(1403, 1237, r'$\mathit{P}$=0.0043', fontsize=17)
put_text(1320, 1276.5, r'$\mathit{P}$=0.0004', fontsize=17)
put_text(1480.8, 1274.4, 'N.S.', fontsize=17)

fig.savefig('out.png', dpi=100)
